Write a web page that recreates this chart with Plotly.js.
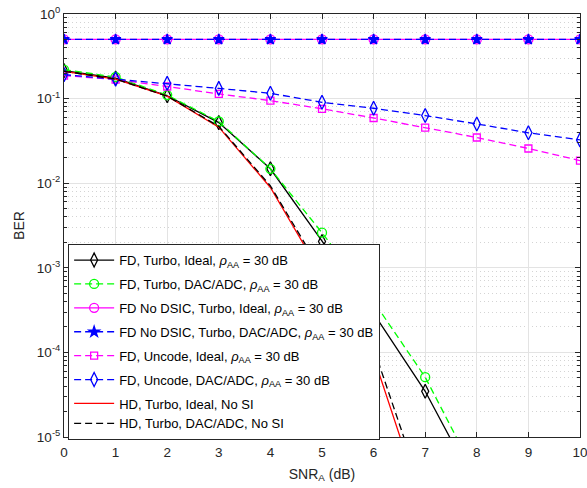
<!DOCTYPE html>
<html>
<head>
<meta charset="utf-8">
<script src="https://cdn.plot.ly/plotly-3.0.1.min.js"></script>
<style>html,body{margin:0;padding:0;background:#fff;}#chart{width:587px;height:488px;}</style>
</head>
<body>
<div id="chart"></div>
<script>
// SNR_A (dB)
const snr = [0, 1, 2, 3, 4, 5, 6, 7, 8, 9, 10];
// BER series
const fdTurboIdeal   = [0.214, 0.175, 0.108, 0.052, 0.0148, 0.00205, 2.9e-4, 3.47e-5, 2.5e-6];
const fdTurboDac     = [0.22, 0.18, 0.11, 0.0536, 0.0148, 0.0026, 4.0e-4, 5.1e-5, 3.4e-6];
const fdNoDsicIdeal  = [0.5, 0.5, 0.5, 0.5, 0.5, 0.5, 0.5, 0.5, 0.5, 0.5, 0.5];
const fdNoDsicDac    = [0.5, 0.5, 0.5, 0.5, 0.5, 0.5, 0.5, 0.5, 0.5, 0.5, 0.5];
const fdUncodeIdeal  = [0.187, 0.168, 0.139, 0.1135, 0.0946, 0.0758, 0.059, 0.0455, 0.0347, 0.0257, 0.0185];
const fdUncodeDac    = [0.192, 0.17, 0.152, 0.132, 0.1155, 0.0904, 0.0769, 0.063, 0.0502, 0.0394, 0.0325];
const hdIdeal        = [0.21, 0.17, 0.107, 0.046, 0.0089, 8.1e-4, 8.9e-5, 1.26e-6];
const hdDac          = [0.21, 0.17, 0.107, 0.047, 0.0093, 8.9e-4, 1.12e-4, 1.8e-6];

const names = [
  'FD, Turbo, Ideal, <i>ρ</i><sub>AA</sub> = 30 dB',
  'FD, Turbo, DAC/ADC, <i>ρ</i><sub>AA</sub> = 30 dB',
  'FD No DSIC, Turbo, Ideal, <i>ρ</i><sub>AA</sub> = 30 dB',
  'FD No DSIC, Turbo, DAC/ADC, <i>ρ</i><sub>AA</sub> = 30 dB',
  'FD, Uncode, Ideal, <i>ρ</i><sub>AA</sub> = 30 dB',
  'FD, Uncode, DAC/ADC, <i>ρ</i><sub>AA</sub> = 30 dB',
  'HD, Turbo, Ideal, No SI',
  'HD, Turbo, DAC/ADC, No SI'
];
const yTickVals = [1e-5, 1e-4, 1e-3, 1e-2, 1e-1, 1];
const yTickText = ['10<sup>-5</sup>', '10<sup>-4</sup>', '10<sup>-3</sup>', '10<sup>-2</sup>', '10<sup>-1</sup>', '10<sup>0</sup>'];

const dash = '7px,4px';
function tr(y, name, color, d, sym, size, grp) {
  const t = {
    x: snr.slice(0, y.length), y: y, name: name, type: 'scatter',
    mode: sym ? 'lines+markers' : 'lines', legendgroup: grp,
    line: {color: color, width: 1.3, dash: d}
  };
  if (sym) t.marker = {symbol: sym, size: size, color: color, line: {color: color, width: 1.3}};
  return t;
}
const data = [
  tr(fdTurboIdeal, names[0], '#000000', 'solid', 'diamond-tall-open', 10, 'g1'),
  tr(fdTurboDac, names[1], '#00ff00', dash, 'circle-open', 9, 'g2'),
  tr(fdNoDsicIdeal, names[2], '#ff00ff', 'solid', 'circle-open', 9, 'g3'),
  tr(fdNoDsicDac, names[3], '#0000ff', dash, 'star', 8, 'g4'),
  tr(fdUncodeIdeal, names[4], '#ff00ff', dash, 'square-open', 7, 'g5'),
  tr(fdUncodeDac, names[5], '#0000ff', dash, 'diamond-tall-open', 10, 'g6'),
  tr(hdIdeal, names[6], '#ff0000', 'solid', null, 0, 'g7'),
  tr(hdDac, names[7], '#000000', dash, null, 0, 'g7')
];

const axFont = {family: 'Liberation Sans, Arial, sans-serif', size: 13, color: '#262626'};
const layout = {
  width: 587, height: 488,
  margin: {l: 64, r: 7, t: 14, b: 51},
  paper_bgcolor: '#fff', plot_bgcolor: '#fff',
  font: axFont,
  showlegend: true,
  xaxis: {
    range: [0, 10], dtick: 1, tick0: 0,
    ticks: 'inside', ticklen: 5, tickcolor: '#262626',
    showline: true, linecolor: '#262626', linewidth: 1, mirror: 'ticks',
    showgrid: true, gridcolor: '#e3e3e3', gridwidth: 1, zeroline: false,
    tickfont: {family: axFont.family, size: 13.5, color: '#262626'},
    ticklabeloverflow: 'allow', ticklabelstandoff: 3,
    title: {text: 'SNR<sub>A</sub> (dB)', font: {family: axFont.family, size: 14, color: '#262626'}, standoff: 9}
  },
  yaxis: {
    type: 'log', range: [-5, 0],
    tickmode: 'array', tickvals: yTickVals, ticktext: yTickText,
    ticks: 'inside', ticklen: 5, tickcolor: '#262626',
    showline: true, linecolor: '#262626', linewidth: 1, mirror: 'ticks',
    showgrid: true, gridcolor: '#e3e3e3', gridwidth: 1, zeroline: false,
    tickfont: {family: axFont.family, size: 13.5, color: '#262626'},
    minor: {ticks: 'inside', ticklen: 3, tickcolor: '#262626', showgrid: true, gridcolor: '#d4d4d4', griddash: '1px,3px', gridwidth: 1, dtick: 'D1'},
    title: {text: 'BER', font: {family: axFont.family, size: 14, color: '#262626'}, standoff: 8}
  },
  legend: {
    x: 0.008, y: 0.456, xanchor: 'left', yanchor: 'top',
    bgcolor: '#ffffff', bordercolor: '#262626', borderwidth: 1,
    font: {family: axFont.family, size: 13, color: '#000'},
    itemwidth: 40, tracegroupgap: 4, traceorder: 'grouped'
  }
};
Plotly.newPlot('chart', data, layout, {displayModeBar: false, staticPlot: true});
</script>
</body>
</html>
